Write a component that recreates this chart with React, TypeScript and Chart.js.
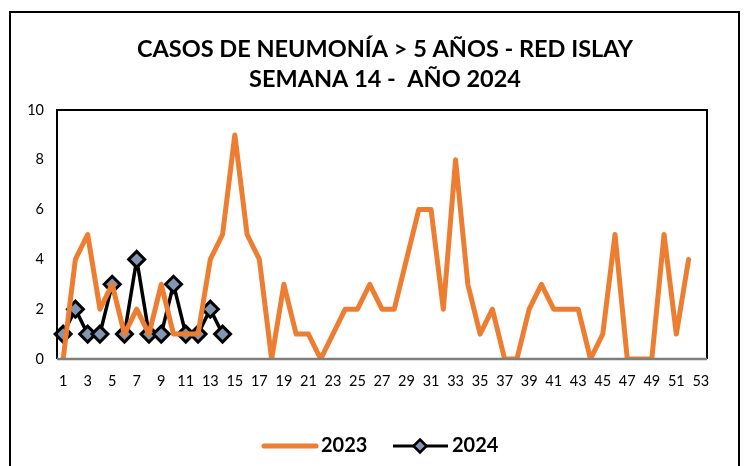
import React, { useEffect, useRef } from "react";
import { Chart, registerables } from "chart.js";

Chart.register(...registerables);

const weeks: string[] = Array.from({ length: 53 }, (_, i) => String(i + 1));
const cases2023: number[] = [0, 4, 5, 2, 3, 1, 2, 1, 3, 1, 1, 1, 4, 5, 9, 5, 4, 0, 3, 1, 1, 0, 1, 2, 2, 3, 2, 2, 4, 6, 6, 2, 8, 3, 1, 2, 0, 0, 2, 3, 2, 2, 2, 0, 1, 5, 0, 0, 0, 5, 1, 4];
const cases2024: number[] = [1, 2, 1, 1, 3, 1, 4, 1, 1, 3, 1, 1, 2, 1];
const titleLines: string[] = ["CASOS DE NEUMONÍA > 5 AÑOS - RED ISLAY", "SEMANA 14 -  AÑO 2024"];
const seriesNames: string[] = ["2023", "2024"];

const ORANGE = "#ED7D31";
const MARKER = "#8096B2";
const FONT = "Lato, 'Open Sans', sans-serif";

export default function App() {
  const ref = useRef<HTMLCanvasElement | null>(null);
  useEffect(() => {
    if (!ref.current) return;
    const decor = {
      id: "decor",
      beforeDraw(chart: any) {
        const ctx = chart.ctx;
        ctx.save();
        ctx.fillStyle = "#fff";
        ctx.fillRect(0, 0, chart.width, chart.height);
        ctx.strokeStyle = "#000";
        ctx.lineWidth = 2;
        ctx.strokeRect(10, 12, 729, 470);
        ctx.fillStyle = "#000";
        ctx.font = `bold 23.5px ${FONT}`;
        ctx.textAlign = "center";
        ctx.textBaseline = "middle";
        ctx.fillText(titleLines[0], 385, 49);
        ctx.fillText(titleLines[1], 385, 79);
        ctx.restore();
      },
      afterDatasetsDraw(chart: any) {
        const ctx = chart.ctx;
        const a = chart.chartArea;
        ctx.save();
        ctx.strokeStyle = "#000";
        ctx.lineWidth = 2;
        ctx.beginPath();
        ctx.moveTo(a.left, a.bottom);
        ctx.lineTo(a.left, a.top);
        ctx.lineTo(a.right, a.top);
        ctx.lineTo(a.right, a.bottom);
        ctx.stroke();
        ctx.strokeStyle = "#7F7F7F";
        ctx.lineWidth = 2.5;
        ctx.beginPath();
        ctx.moveTo(a.left, a.bottom);
        ctx.lineTo(a.right, a.bottom);
        ctx.stroke();
        // legend
        const y = 446;
        ctx.lineCap = "round";
        ctx.strokeStyle = ORANGE;
        ctx.lineWidth = 5;
        ctx.beginPath();
        ctx.moveTo(264, y);
        ctx.lineTo(316, y);
        ctx.stroke();
        ctx.lineCap = "butt";
        ctx.strokeStyle = "#000";
        ctx.lineWidth = 3;
        ctx.beginPath();
        ctx.moveTo(393, y);
        ctx.lineTo(448, y);
        ctx.stroke();
        ctx.fillStyle = MARKER;
        ctx.lineWidth = 2.5;
        ctx.beginPath();
        ctx.moveTo(420, y - 6.5);
        ctx.lineTo(426.5, y);
        ctx.lineTo(420, y + 6.5);
        ctx.lineTo(413.5, y);
        ctx.closePath();
        ctx.fill();
        ctx.stroke();
        ctx.fillStyle = "#000";
        ctx.font = `bold 20px ${FONT}`;
        ctx.textAlign = "left";
        ctx.textBaseline = "middle";
        ctx.fillText(seriesNames[0], 321, y);
        ctx.fillText(seriesNames[1], 452, y);
        ctx.restore();
      },
    };
    const chart = new Chart(ref.current, {
      type: "line",
      data: {
        labels: weeks,
        datasets: [
          {
            label: seriesNames[0],
            data: cases2023,
            borderColor: ORANGE,
            backgroundColor: ORANGE,
            borderWidth: 5,
            pointRadius: 0,
            tension: 0,
            borderJoinStyle: "round",
            borderCapStyle: "round",
          },
          {
            label: seriesNames[1],
            data: cases2024,
            borderColor: "#000",
            backgroundColor: MARKER,
            borderWidth: 3.5,
            pointStyle: "rectRot",
            pointRadius: 8,
            pointBorderWidth: 3,
            pointBorderColor: "#000",
            pointBackgroundColor: MARKER,
            tension: 0,
          },
        ],
      },
      options: {
        animation: false,
        responsive: false,
        layout: { padding: { left: 8, right: 39, top: 110, bottom: 70 } },
        plugins: { legend: { display: false }, title: { display: false }, tooltip: { enabled: false } },
        scales: {
          x: {
            offset: true,
            grid: { display: false, drawTicks: false },
            border: { display: false },
            ticks: {
              autoSkip: false,
              maxRotation: 0,
              padding: 14,
              color: "#000",
              font: { family: FONT, size: 14.5 },
              callback: (_v: any, i: number) => (i % 2 === 0 ? weeks[i] : ""),
            },
            afterFit: (s: any) => { s.height = 37; },
          },
          y: {
            min: 0,
            max: 10,
            grid: { display: false, drawTicks: false },
            border: { display: false },
            ticks: { stepSize: 2, padding: 13, color: "#000", font: { family: FONT, size: 14.5 } },
            afterFit: (s: any) => { s.width = 49; },
          },
        },
      },
      plugins: [decor],
    });
    return () => chart.destroy();
  }, []);
  return (
    <div style={{ position: "fixed", left: 0, top: 0, width: 746, height: 466 }}>
      <canvas ref={ref} width={746} height={466} style={{ display: "block" }} />
    </div>
  );
}
